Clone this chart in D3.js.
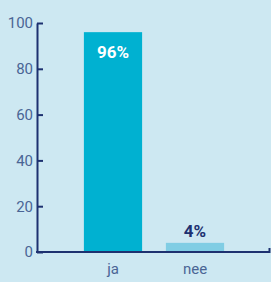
<!DOCTYPE html>
<html>
<head>
<meta charset="utf-8">
<script src="https://cdn.jsdelivr.net/npm/d3@7"></script>
<style>
  html, body { margin: 0; padding: 0; background: #cde8f2; }
  svg { display: block; }
  text { font-family: Roboto, "Open Sans", sans-serif; }
</style>
</head>
<body>
<div id="chart"></div>
<script>
const categories = ['ja', 'nee'];
const values = [96, 4];
const yTicks = [0, 20, 40, 60, 80, 100];
const barColors = ['#00b1d1', '#80cde4'];

const width = 271, height = 282;
const axisColor = '#1d3170';
const labelColor = '#4a6595';

const svg = d3.select('#chart').append('svg')
    .attr('width', width).attr('height', height);

svg.append('rect').attr('width', width).attr('height', height).attr('fill', '#cde8f2');

const y = d3.scaleLinear().domain([0, 100]).range([252, 23]);
const x = d3.scaleBand().domain(categories)
    .range([72, 236]).paddingInner(0.29).paddingOuter(0.145);

// bars
svg.append('g').selectAll('rect').data(values).enter().append('rect')
    .attr('x', (d, i) => x(categories[i]))
    .attr('y', d => y(d))
    .attr('width', x.bandwidth())
    .attr('height', d => y(0) - y(d))
    .attr('fill', (d, i) => barColors[i]);

// value labels
svg.append('g').selectAll('text').data(values).enter().append('text')
    .attr('x', (d, i) => x(categories[i]) + x.bandwidth() / 2)
    .attr('y', d => d > 50 ? y(d) + 26 : y(d) - 6)
    .attr('text-anchor', 'middle')
    .attr('font-family', '"Open Sans", Roboto, sans-serif')
    .attr('font-size', '17px').attr('font-weight', 'bold')
    .attr('fill', d => d > 50 ? '#fff' : axisColor)
    .text(d => d + '%');

// y axis
const yAxis = svg.append('g').attr('transform', 'translate(37,0)')
    .call(d3.axisRight(y).tickValues(yTicks).tickSize(6).tickSizeOuter(0).tickFormat(d3.format('d')));
yAxis.select('.domain').attr('stroke', axisColor).attr('stroke-width', 2);
yAxis.selectAll('.tick line').attr('stroke', axisColor).attr('stroke-width', 2);
yAxis.selectAll('.tick text')
    .attr('x', -4).attr('text-anchor', 'end')
    .attr('font-size', '15px').attr('fill', labelColor)
    .attr('font-family', 'Roboto, sans-serif');

// x axis
svg.append('path')
    .attr('d', `M36,${y(0)}H269.5V${y(0) - 4}`)
    .attr('fill', 'none').attr('stroke', axisColor).attr('stroke-width', 2);

svg.append('g').selectAll('text').data(categories).enter().append('text')
    .attr('x', d => x(d) + x.bandwidth() / 2)
    .attr('y', 274)
    .attr('text-anchor', 'middle')
    .attr('font-size', '15px').attr('fill', labelColor)
    .text(d => d);
</script>
</body>
</html>
